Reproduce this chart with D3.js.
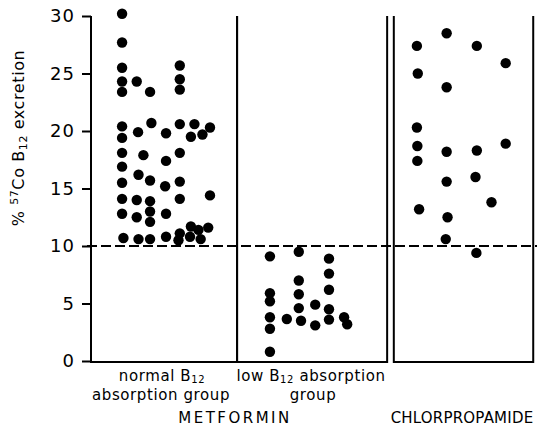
<!DOCTYPE html>
<html>
<head>
<meta charset="utf-8">
<script src="https://cdnjs.cloudflare.com/ajax/libs/d3/7.8.5/d3.min.js"></script>
<style>
  body { margin: 0; background: #fff; }
  text { font-family: "DejaVu Sans", sans-serif; fill: #000; }
</style>
</head>
<body>
<svg class="chart"></svg>
<script>
// Total dimensions
var w = 542,
    h = 435;

// y ticks
var yTicks = [0, 5, 10, 15, 20, 25, 30];
var cutoff = 10;

// Metformin, normal B12 absorption group: [horizontal position, % excretion]
var normalGroup = [
  [7.0, 30.2], [7.0, 27.7], [7.0, 25.5], [7.0, 24.3], [7.0, 23.4], [7.0, 20.4],
  [7.0, 19.4], [7.0, 18.1], [7.0, 16.9], [7.0, 15.5], [7.0, 14.1], [7.0, 12.8], [7.3, 10.7],
  [10.3, 24.3], [10.6, 19.9], [10.7, 16.2], [10.3, 14.0], [10.3, 12.5], [10.7, 10.6], [11.8, 17.9],
  [13.3, 23.4], [13.6, 20.7], [13.3, 15.7], [13.3, 13.9], [13.3, 13.0], [13.3, 12.1], [13.3, 10.6],
  [16.9, 19.8], [16.9, 17.4], [16.7, 15.2], [16.9, 12.8], [16.9, 10.8],
  [20.0, 25.7], [20.0, 24.5], [20.0, 23.6], [20.0, 20.6], [20.0, 18.1], [20.0, 15.6],
  [20.0, 14.1], [20.0, 11.1], [19.7, 10.5],
  [23.3, 20.6], [22.5, 19.5], [22.5, 11.7], [22.3, 10.8], [24.2, 11.4], [24.7, 10.6],
  [25.1, 19.7], [26.8, 20.3], [26.8, 14.4], [26.4, 11.6]
];

// Metformin, low B12 absorption group
var lowGroup = [
  [40.3, 9.1], [40.3, 5.9], [40.3, 5.2], [40.3, 3.8], [40.3, 2.8], [40.3, 0.8],
  [44.1, 3.65],
  [46.8, 9.5], [46.8, 7.0], [46.8, 5.8], [46.8, 4.6], [47.3, 3.5],
  [50.5, 4.9], [50.5, 3.1],
  [53.6, 8.9], [53.6, 7.6], [53.6, 6.2], [53.6, 4.5], [53.6, 3.6],
  [57.0, 3.8], [57.7, 3.2]
];

// Chlorpropamide
var chlorGroup = [
  [73.4, 27.4], [80.1, 28.5], [86.9, 27.4], [93.4, 25.9], [73.6, 25.0], [80.1, 23.8],
  [73.4, 20.3], [73.5, 18.7], [73.5, 17.4], [80.1, 18.2], [86.9, 18.3], [93.4, 18.9],
  [80.1, 15.6], [86.6, 16.0], [90.2, 13.8], [73.9, 13.2], [80.3, 12.5], [79.9, 10.6], [86.8, 9.4]
];

// panel outlines in the same horizontal units
var panels = [[0, 32.9], [32.9, 66.7], [68.2, 99.6]];

var svg = d3.select(".chart")
    .attr("width", w)
    .attr("height", h);

var xScale = d3.scaleLinear()
    .domain([0, 100])
    .range([91, 535]);

var yScale = d3.scaleLinear()
    .domain([0, 30])
    .range([361, 16]);

var yAxis = d3.axisLeft(yScale)
    .tickValues(yTicks)
    .tickSize(9)
    .tickPadding(7)
    .tickFormat(d3.format("d"));

var gy = svg.append("g")
    .attr("transform", "translate(" + xScale(0) + ",0)")
    .call(yAxis);
gy.select(".domain").remove();
gy.selectAll(".tick line").attr("stroke", "#000").attr("stroke-width", 2);
gy.selectAll(".tick text")
    .attr("font-size", 18)
    .attr("letter-spacing", 1)
    .style("font-family", "DejaVu Sans, sans-serif");

// panel boxes (left, right, bottom)
svg.append("g").selectAll("path")
  .data(panels)
  .join("path")
    .attr("fill", "none")
    .attr("stroke", "#000")
    .attr("stroke-width", 2)
    .attr("d", function(d) {
      return "M" + xScale(d[0]) + "," + yScale(30) +
             "V" + (yScale(0) + 1) +
             "H" + xScale(d[1]) +
             "V" + yScale(30);
    });

// dashed 10% line
svg.append("line")
    .attr("x1", xScale(0) - 4)
    .attr("x2", xScale(100) + 2)
    .attr("y1", yScale(cutoff))
    .attr("y2", yScale(cutoff))
    .attr("stroke", "#000")
    .attr("stroke-width", 2)
    .attr("stroke-dasharray", "10,4");

// dots
var allDots = normalGroup.concat(lowGroup, chlorGroup);
svg.append("g").selectAll("circle")
  .data(allDots)
  .join("circle")
    .attr("cx", function(d) { return xScale(d[0]); })
    .attr("cy", function(d) { return yScale(d[1]); })
    .attr("r", 5.2)
    .attr("fill", "#000");

// y label
var ylab = svg.append("text")
    .attr("transform", "translate(24,138) rotate(-90)")
    .attr("text-anchor", "middle")
    .attr("font-size", 16)
    .attr("letter-spacing", 0.6);
ylab.append("tspan").text("% ");
ylab.append("tspan").attr("font-size", 11).attr("dy", -6).text("57");
ylab.append("tspan").attr("dy", 6).text("Co B");
ylab.append("tspan").attr("font-size", 11).attr("dy", 3).text("12");
ylab.append("tspan").attr("dy", -3).text(" excretion");

// x labels
function subLabel(x, y, before, after) {
  var t = svg.append("text")
      .attr("x", x)
      .attr("y", y)
      .attr("text-anchor", "middle")
      .attr("font-size", 15)
      .attr("letter-spacing", 0.6);
  t.append("tspan").text(before);
  t.append("tspan").attr("font-size", 10).attr("dy", 2).text("12");
  t.append("tspan").attr("dy", -2).text(after);
}
function label(x, y, txt, spacing) {
  svg.append("text").attr("x", x).attr("y", y)
      .attr("text-anchor", "middle").attr("font-size", 15)
      .attr("letter-spacing", spacing).text(txt);
}
subLabel(162, 381, "normal B", "");
label(161, 400, "absorption group", 0.6);
subLabel(311, 381, "low B", " absorption");
label(313, 400, "group", 0.6);
label(235, 423, "METFORMIN", 2.5);
label(462, 423, "CHLORPROPAMIDE", 0.2);
</script>
</body>
</html>
